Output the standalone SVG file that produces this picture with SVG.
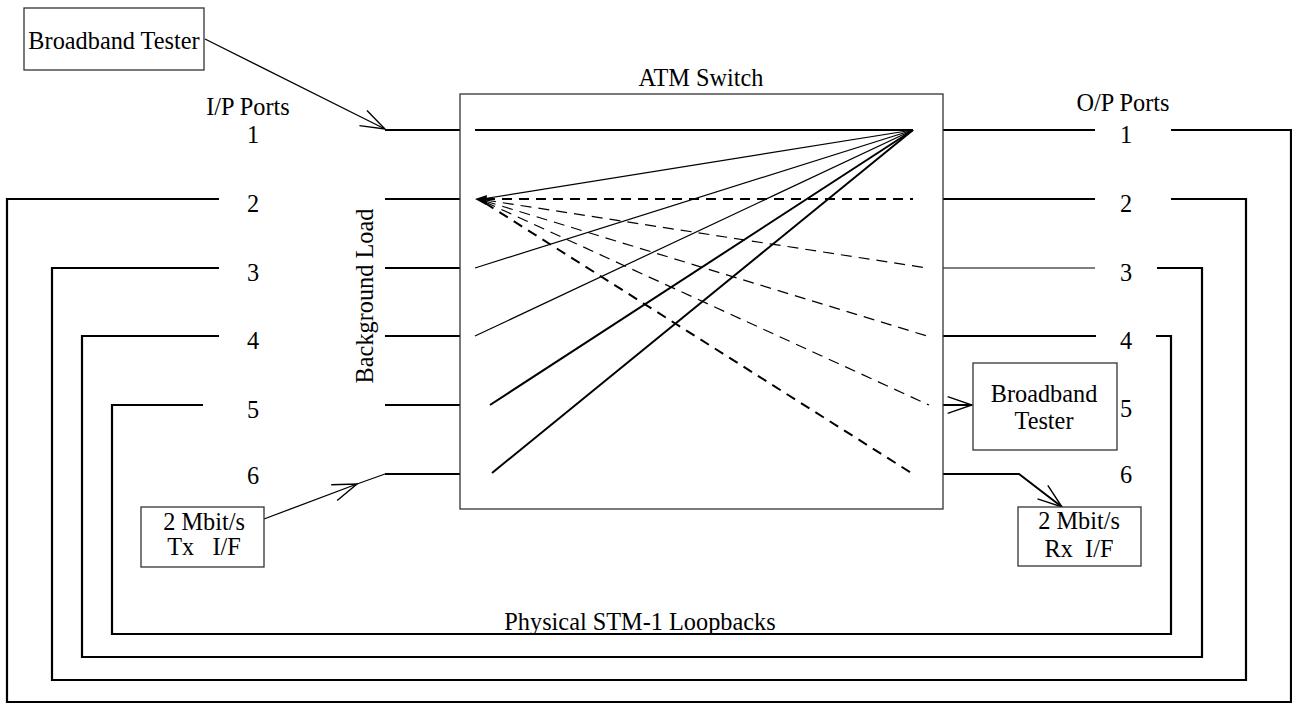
<svg xmlns="http://www.w3.org/2000/svg" width="1292" height="705" viewBox="0 0 1292 705">
<style>
text{font-family:"Liberation Serif","Times New Roman",serif;font-size:24.3px;fill:#000;text-anchor:middle}
.box{fill:#fff;stroke:#333;stroke-width:1.3}
.port{stroke:#000;stroke-width:2.2;fill:none}
.loop{stroke:#000;stroke-width:2.2;fill:none}
.thin{stroke:#000;stroke-width:1.2;fill:none}
.med{stroke:#000;stroke-width:2;fill:none}
.dthin{stroke:#000;stroke-width:1.2;fill:none;stroke-dasharray:11 7}
.dthick{stroke:#000;stroke-width:2;fill:none;stroke-dasharray:10 7}
.arr{stroke:#000;stroke-width:1.3;fill:none}
</style>
<defs>
<marker id="open" markerWidth="30" markerHeight="30" refX="0" refY="0" viewBox="-30 -15 32 30" markerUnits="userSpaceOnUse" orient="auto">
<path d="M-26,-9 L0,0 L-26,9" fill="none" stroke="#000" stroke-width="1.5"/>
</marker>
</defs>
<rect width="1292" height="705" fill="#fff"/>

<g id="connectors">
<!-- loopbacks -->
<polyline class="loop" points="1171,130 1291,130 1291,702 7,702 7,199 219,199"/>
<polyline class="loop" points="1171,199 1246,199 1246,680 52,680 52,268 219,268"/>
<polyline class="loop" points="1157,268 1202,268 1202,657 82,657 82,336 219,336"/>
<polyline class="loop" points="1156,336 1171,336 1171,634 112,634 112,405 203,405"/>
<!-- input port stubs -->
<line class="port" x1="385" y1="130" x2="460" y2="130"/>
<line class="port" x1="385" y1="199" x2="460" y2="199"/>
<line class="port" x1="385" y1="268" x2="460" y2="268"/>
<line class="port" x1="385" y1="336" x2="460" y2="336"/>
<line class="port" x1="385" y1="405" x2="460" y2="405"/>
<line class="port" x1="385" y1="474" x2="460" y2="474"/>
<!-- output port stubs -->
<line class="port" x1="943" y1="130" x2="1095" y2="130"/>
<line class="port" x1="943" y1="199" x2="1095" y2="199"/>
<line class="thin" x1="943" y1="268" x2="1095" y2="268"/>
<line class="port" x1="943" y1="336" x2="1096" y2="336"/>
<line class="med" x1="943" y1="405" x2="972" y2="405" marker-end="url(#open)"/>
<polyline class="med" points="943,474 1019,474 1062,507" marker-end="url(#open)"/>
<!-- tester arrows -->
<line class="arr" x1="205" y1="39" x2="385" y2="129" marker-end="url(#open)"/>
<line class="arr" x1="264" y1="519" x2="357" y2="484" marker-end="url(#open)"/>
<line class="arr" x1="357" y1="484" x2="385" y2="474"/>
</g>

<g id="atm-switch">
<rect class="box" x="460" y="94" width="483" height="415"/>
<text x="701" y="86">ATM Switch</text>
<!-- port 1 through -->
<line class="med" x1="475" y1="130" x2="913" y2="130"/>
<!-- fan from output 1 -->
<line class="thin" x1="913" y1="130" x2="482" y2="199"/>
<line class="thin" x1="913" y1="130" x2="475" y2="268"/>
<line class="thin" x1="913" y1="130" x2="475" y2="336"/>
<line class="med" x1="913" y1="130" x2="490" y2="405"/>
<line class="med" x1="913" y1="130" x2="492" y2="473"/>
<!-- fan from input 2 -->
<path d="M475,199 L487,195 L486,205 Z" fill="#000"/>
<line class="dthick" x1="485" y1="199" x2="913" y2="199"/>
<line class="dthin" x1="485" y1="200" x2="927" y2="268"/>
<line class="dthin" x1="485" y1="201" x2="927" y2="336"/>
<line class="dthin" x1="485" y1="202" x2="929" y2="405"/>
<line class="dthick" x1="485" y1="203" x2="913" y2="474"/>
</g>

<g id="labels">
<text x="248" y="115">I/P Ports</text>
<text x="253" y="143">1</text>
<text x="253" y="212">2</text>
<text x="253" y="281">3</text>
<text x="253" y="349">4</text>
<text x="253" y="418">5</text>
<text x="253" y="484">6</text>
<text x="1123" y="111">O/P Ports</text>
<text x="1126" y="143">1</text>
<text x="1126" y="212">2</text>
<text x="1126" y="281">3</text>
<text x="1126" y="349">4</text>
<text x="1126" y="417">5</text>
<text x="1126" y="483">6</text>
<text transform="translate(373,296) rotate(-90)">Background Load</text>
<text x="640" y="630">Physical STM-1 Loopbacks</text>
</g>

<g id="broadband-tester-in">
<rect class="box" x="24" y="8" width="180" height="62"/>
<text x="114" y="49">Broadband Tester</text>
</g>

<g id="broadband-tester-out">
<rect class="box" x="973" y="363" width="144" height="87"/>
<text x="1044" y="402">Broadband</text>
<text x="1044" y="429">Tester</text>
</g>

<g id="tx-if">
<rect class="box" x="141" y="507" width="123" height="60"/>
<text x="204" y="530">2 Mbit/s</text>
<text x="204" y="555" xml:space="preserve">Tx   I/F</text>
</g>

<g id="rx-if">
<rect class="box" x="1018" y="507" width="123" height="59"/>
<text x="1079" y="529">2 Mbit/s</text>
<text x="1079" y="557" xml:space="preserve">Rx  I/F</text>
</g>
</svg>
